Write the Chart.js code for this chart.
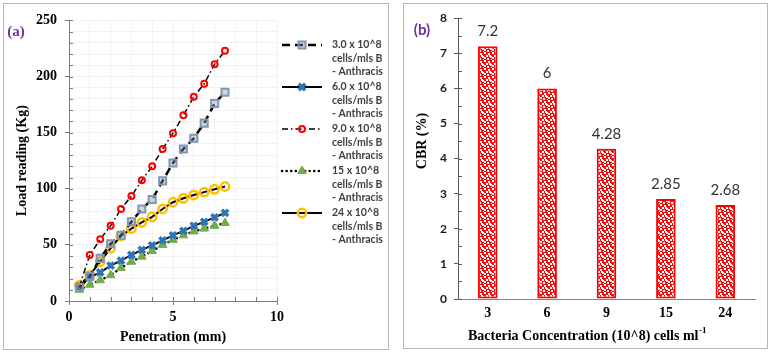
<!DOCTYPE html>
<html><head><meta charset="utf-8">
<script src="https://cdn.jsdelivr.net/npm/chart.js@4.4.0/dist/chart.umd.min.js"></script>
<style>
html,body{margin:0;padding:0;background:#fff;width:772px;height:353px;overflow:hidden}
.panel{position:absolute;border:1px solid #b8b8b8;box-sizing:border-box;background:#fff}
#pa{left:3px;top:3px;width:386px;height:347px}
#pb{left:403px;top:3px;width:365px;height:346px}
canvas{display:block}
</style></head><body>
<div class="panel" id="pa"><canvas id="ca" width="384" height="345" style="width:384px;height:345px"></canvas></div>
<div class="panel" id="pb"><canvas id="cb" width="363" height="344" style="width:363px;height:344px"></canvas></div>
<script>
// ---------- data: panel (a) ----------
const penetration = [0.5,1,1.5,2,2.5,3,3.5,4,4.5,5,5.5,6,6.5,7,7.5];
const load3  = [12,22,38,51,58.5,70.5,82,90.5,107,123,135.5,145,158.5,176,186];
const load6  = [13,21,25.5,31.5,36,41,45.5,49.5,54,58.5,62.5,67,70.5,74.5,78.5];
const load9  = [13,41,55,67,82,93.5,107.5,120,135.5,149.5,165.5,182,193.5,211,223];
const load15 = [10,14.5,18.5,23,29.5,35,39.5,44.5,50,54.5,58.5,62,64.5,67,69.5];
const load24 = [14,23,35,47,58,64.5,70,75,82,88,91.5,94.5,97,99.5,102];
const seriesNames = [
  ['3.0 x 10^8','cells/mls B','- Anthracis'],
  ['6.0 x 10^8','cells/mls B','- Anthracis'],
  ['9.0 x 10^8','cells/mls B','- Anthracis'],
  ['15 x 10^8','cells/mls B','- Anthracis'],
  ['24 x 10^8','cells/mls B','- Anthracis']
];
// ---------- data: panel (b) ----------
const concentrations = ['3','6','9','15','24'];
const cbr = [7.2,6,4.28,2.85,2.68];

const SERIF = '"Liberation Serif", "Times New Roman", serif';
const SANS = 'Lato, "Open Sans", sans-serif';

function pts(ys){ return penetration.map((x,i)=>({x:x,y:ys[i]})); }

const innerTicks = {
  id:'innerTicks',
  afterDraw(chart, args, opts){
    const ctx = chart.ctx, ca = chart.chartArea;
    ctx.save(); ctx.strokeStyle = opts.color; ctx.lineWidth = 1;
    (opts.axes||[]).forEach(id=>{
      const s = chart.scales[id];
      s.ticks.forEach(t=>{
        const p = Math.round(s.getPixelForValue(t.value)) + 0.5;
        ctx.beginPath();
        if (s.isHorizontal()) { ctx.moveTo(p, ca.bottom); ctx.lineTo(p, ca.bottom - opts.length); }
        else { ctx.moveTo(ca.left, p); ctx.lineTo(ca.left + opts.length, p); }
        ctx.stroke();
      });
    });
    ctx.restore();
  }
};

const seriesLegend = {
  id:'seriesLegend',
  afterDraw(chart, args, opts){
    const ctx = chart.ctx;
    chart.data.datasets.forEach((ds,i)=>{
      const y0 = opts.top + i*opts.itemGap;
      ctx.save();
      ctx.strokeStyle = ds.borderColor; ctx.lineWidth = ds.borderWidth;
      ctx.setLineDash(ds.borderDash||[]); ctx.lineCap = ds.borderCapStyle||'butt';
      ctx.beginPath(); ctx.moveTo(opts.x0, y0); ctx.lineTo(opts.x1, y0); ctx.stroke();
      ctx.setLineDash([]); ctx.lineCap='butt';
      ctx.fillStyle = ds.pointBackgroundColor; ctx.strokeStyle = ds.pointBorderColor;
      ctx.lineWidth = ds.pointBorderWidth;
      Chart.helpers.drawPoint(ctx, {pointStyle: ds.pointStyle, radius: ds.pointRadius, borderWidth: ds.pointBorderWidth, rotation:0}, (opts.x0+opts.x1)/2, y0);
      ctx.fillStyle = opts.color; ctx.font = opts.font; ctx.textBaseline='middle'; ctx.textAlign='left';
      seriesNames[i].forEach((line,k)=>ctx.fillText(line, opts.textX, y0 + k*opts.lineHeight));
      ctx.restore();
    });
  }
};

const panelTextA = {
  id:'panelTextA',
  afterDraw(chart){
    const ctx = chart.ctx; ctx.save();
    ctx.fillStyle = '#7030a0'; ctx.font = 'bold 15px ' + SERIF;
    ctx.textAlign='center'; ctx.textBaseline='middle';
    ctx.fillText('(a)', 12, 28);
    ctx.restore();
  }
};

const barLabels = {
  id:'barLabels',
  afterDatasetsDraw(chart, args, opts){
    const ctx = chart.ctx, meta = chart.getDatasetMeta(0);
    ctx.save(); ctx.fillStyle = opts.color; ctx.font = opts.font;
    ctx.textAlign='center'; ctx.textBaseline='middle';
    meta.data.forEach((bar,i)=>ctx.fillText(String(chart.data.datasets[0].data[i]), bar.x, bar.y - opts.offset));
    ctx.restore();
  }
};

const panelTextB = {
  id:'panelTextB',
  afterDraw(chart){
    const ctx = chart.ctx; ctx.save();
    ctx.fillStyle = '#7030a0'; ctx.font = 'bold 15px ' + SANS;
    ctx.textAlign='center'; ctx.textBaseline='middle';
    ctx.fillText('(b)', 18, 26);
    // y title
    ctx.fillStyle = '#000'; ctx.font = 'bold 14px ' + SERIF;
    ctx.save(); ctx.translate(18, 137); ctx.rotate(-Math.PI/2);
    ctx.fillText('CBR (%)', 0, 0); ctx.restore();
    // x title with superscript
    const main = 'Bacteria Concentration (10^8) cells ml';
    const sup = '-1';
    ctx.font = 'bold 14px ' + SERIF;
    const wm = ctx.measureText(main).width;
    ctx.font = 'bold 9px ' + SERIF;
    const ws = ctx.measureText(sup).width;
    const cx = 183, cy = 332;
    const x0 = cx - (wm+ws)/2;
    ctx.textAlign='left';
    ctx.font = 'bold 14px ' + SERIF;
    ctx.fillText(main, x0, cy);
    ctx.font = 'bold 9px ' + SERIF;
    ctx.fillText(sup, x0 + wm + 0.5, cy - 5);
    ctx.restore();
  }
};

// ---------- chart (a) ----------
const gridFaint = '#f2f2f2';
new Chart(document.getElementById('ca'), {
  type:'line',
  data:{ datasets:[
    {label:seriesNames[0].join(' '), data:pts(load3), borderColor:'#000', borderWidth:2.5, borderDash:[8,5],
     pointStyle:'rect', pointRadius:5, pointBorderWidth:2, pointBackgroundColor:'rgba(132,151,176,0.4)', pointBorderColor:'#8497b0'},
    {label:seriesNames[1].join(' '), data:pts(load6), borderColor:'#000', borderWidth:2,
     pointStyle:'crossRot', pointRadius:4.5, pointBorderWidth:3.5, pointBackgroundColor:'#2e75b6', pointBorderColor:'#2e75b6'},
    {label:seriesNames[2].join(' '), data:pts(load9), borderColor:'#000', borderWidth:1.5, borderDash:[6,3,1.5,3],
     pointStyle:'circle', pointRadius:3, pointBorderWidth:2, pointBackgroundColor:'rgba(255,255,255,0)', pointBorderColor:'#ff0000'},
    {label:seriesNames[3].join(' '), data:pts(load15), borderColor:'#000', borderWidth:2.5, borderDash:[0.1,4.5], borderCapStyle:'round',
     pointStyle:'triangle', pointRadius:5, pointBorderWidth:1, pointBackgroundColor:'#70ad47', pointBorderColor:'#70ad47'},
    {label:seriesNames[4].join(' '), data:pts(load24), borderColor:'#000', borderWidth:2,
     pointStyle:'circle', pointRadius:4.2, pointBorderWidth:2.5, pointBackgroundColor:'rgba(255,255,255,0)', pointBorderColor:'#ffc000'}
  ]},
  options:{
    responsive:false, maintainAspectRatio:false, animation:false,
    layout:{padding:{left:0,right:111,top:14,bottom:0}},
    elements:{line:{tension:0}},
    plugins:{
      legend:{display:false}, tooltip:{enabled:false},
      innerTicks:{axes:['x','y'], length:4, color:'#7f7f7f'},
      seriesLegend:{top:41, itemGap:42, lineHeight:13.5, x0:278, x1:318, textX:328, font:'bold 10.5px '+SANS, color:'#404040'}
    },
    scales:{
      x:{type:'linear', min:0, max:10,
        afterFit(s){ s.height = 48; },
        ticks:{stepSize:1, autoSkip:false, maxRotation:0, padding:4, color:'#000',
          font:{family:SERIF, size:14, weight:'bold'},
          callback:(v)=> (v % 5 === 0 ? String(v) : '')},
        grid:{color:gridFaint, tickLength:4, tickColor:(c)=> (c.tick && c.tick.value % 5 === 0 ? '#7f7f7f' : 'rgba(0,0,0,0)')},
        border:{color:'#7f7f7f', width:1},
        title:{display:true, text:'Penetration (mm)', color:'#000', font:{family:SERIF, size:14, weight:'bold'}, padding:{top:0,bottom:3}}
      },
      y:{type:'linear', min:0, max:250,
        afterFit(s){ s.width = 65; },
        ticks:{stepSize:10, autoSkip:false, padding:8, color:'#000',
          font:{family:SERIF, size:14, weight:'bold'},
          callback:(v)=> (v % 50 === 0 ? String(v) : '')},
        grid:{color:gridFaint, tickLength:4, tickColor:(c)=> (c.tick && c.tick.value % 50 === 0 ? '#7f7f7f' : 'rgba(0,0,0,0)')},
        border:{color:'#7f7f7f', width:1},
        title:{display:true, text:'Load reading (Kg)', color:'#000', font:{family:SERIF, size:14, weight:'bold'}, padding:{top:10,bottom:0}}
      }
    }
  },
  plugins:[innerTicks, seriesLegend, panelTextA]
});

// ---------- chart (b) ----------
function makePattern(){
  const c = document.createElement('canvas'); c.width = 8; c.height = 8;
  const g = c.getContext('2d');
  g.fillStyle = '#ee1111'; g.fillRect(0,0,8,8);
  g.fillStyle = '#ffffff';
  [[0,0],[4,1],[2,3],[6,4],[0,5],[3,6],[7,7],[5,3]].forEach(p=>g.fillRect(p[0],p[1],2,2));
  return g.createPattern(c,'repeat');
}
const pattern = makePattern();
new Chart(document.getElementById('cb'), {
  type:'bar',
  data:{ labels:concentrations, datasets:[{ data:cbr, backgroundColor:pattern, borderColor:'#ff0000', borderWidth:2, borderSkipped:false,
    categoryPercentage:1, barPercentage:0.33 }]},
  options:{
    responsive:false, maintainAspectRatio:false, animation:false,
    layout:{padding:{left:0,right:12,top:13,bottom:0}},
    plugins:{
      legend:{display:false}, tooltip:{enabled:false},
      innerTicks:{axes:['y'], length:4, color:'#595959'},
      barLabels:{offset:15, color:'#333333', font:'15px '+SANS}
    },
    scales:{
      x:{
        afterFit(s){ s.height = 49; },
        ticks:{padding:6, color:'#000', font:{family:SERIF, size:14, weight:'bold'}},
        grid:{display:false, drawTicks:false},
        border:{display:true, color:'#868686', width:1}
      },
      y:{min:0, max:8,
        afterFit(s){ s.width = 54; },
        ticks:{stepSize:0.5, autoSkip:false, padding:7, color:'#1a1a1a',
          font:{family:SANS, size:12, weight:'bold'},
          callback:(v)=> (Number.isInteger(v) ? String(v) : '')},
        grid:{drawOnChartArea:false, tickLength:4, tickColor:(c)=> (c.tick && Number.isInteger(c.tick.value) ? '#595959' : 'rgba(0,0,0,0)')},
        border:{color:'#595959', width:1}
      }
    }
  },
  plugins:[innerTicks, barLabels, panelTextB]
});
</script>
</body></html>
